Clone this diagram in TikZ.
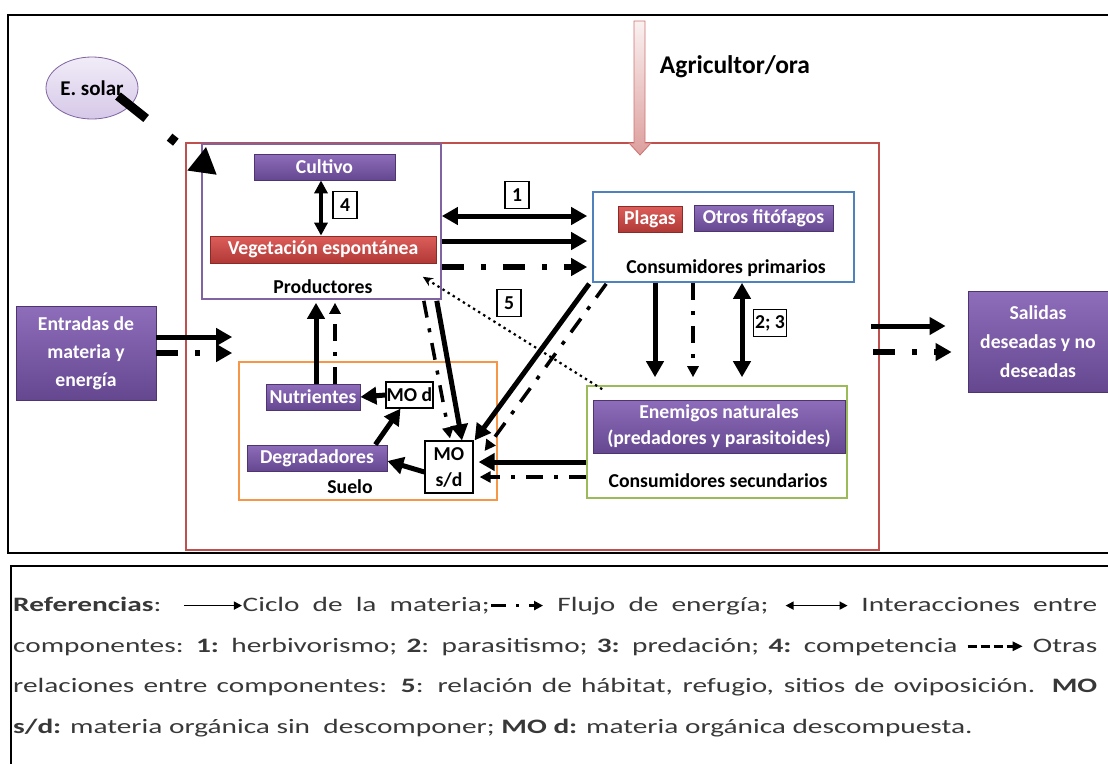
\documentclass[tikz,border=0pt]{standalone}
\usepackage{fontspec}
\setmainfont{Carlito}
\newfontfamily\legfont[FakeStretch=1.43]{Carlito}
\usetikzlibrary{arrows.meta, shapes.geometric, calc}

\definecolor{agrored}{HTML}{C0504D}
\definecolor{prodpurple}{HTML}{8064A2}
\definecolor{cpblue}{HTML}{4F81BD}
\definecolor{csgreen}{HTML}{9BBB59}
\definecolor{soilorange}{HTML}{F79646}
\definecolor{bartop}{HTML}{8E6DBA}
\definecolor{barbottom}{HTML}{654790}
\definecolor{barline}{HTML}{4E3570}
\definecolor{redtop}{HTML}{DD5E5B}
\definecolor{redbottom}{HTML}{B03936}
\definecolor{redline}{HTML}{8C2A28}
\definecolor{lavtop}{HTML}{F1ECF8}
\definecolor{lavbottom}{HTML}{D6C8E8}

% legend glyphs
\newcommand{\legmatter}{\tikz[x=1pt,y=1pt,baseline=-6pt]\draw[black, line width=1.5pt, -{Triangle[length=8pt,width=8pt]}] (0,0) -- (58,0);}
\newcommand{\legenergy}{\tikz[x=1pt,y=1pt,baseline=-6pt]\draw[black, line width=2.5pt, dash pattern=on 15pt off 10pt on 3pt off 10pt, -{Triangle[length=9pt,width=9pt]}] (0,0) -- (52,0);}
\newcommand{\leginteract}{\tikz[x=1pt,y=1pt,baseline=-6pt]\draw[black, line width=1.5pt, {Triangle[length=8pt,width=8pt]}-{Triangle[length=8pt,width=8pt]}] (0,0) -- (62,0);}
\newcommand{\legother}{\tikz[x=1pt,y=1pt,baseline=-6pt]\draw[black, line width=3.5pt, dash pattern=on 9pt off 4pt, -{Triangle[length=10pt,width=9pt]}] (0,0) -- (55,0);}

\begin{document}
\begin{tikzpicture}[x=1pt, y=-1pt, font=\bfseries\fontsize{19.7}{23}\selectfont]
    % Define node styles
    \tikzstyle{bar} = [inner sep=0pt, minimum height=26, text=white, top color=bartop, bottom color=barbottom, draw=barline, line width=0.8pt]
    \tikzstyle{redbar} = [bar, top color=redtop, bottom color=redbottom, draw=redline]
    \tikzstyle{bigbar} = [bar, align=center, font=\bfseries\fontsize{19.7}{28}\selectfont]
    \tikzstyle{group} = [draw, line width=1.6pt, inner sep=0pt]
    \tikzstyle{numbox} = [draw, fill=white, line width=1.2pt, inner sep=0pt, minimum width=24, minimum height=27]
    \tikzstyle{matter} = [line width=5pt, -{Triangle[length=16pt,width=17pt]}]
    \tikzstyle{energy} = [line width=6pt, dash pattern=on 22pt off 17pt on 5pt off 17pt, -{Triangle[length=16pt,width=17pt]}]
    \tikzstyle{energythin} = [line width=3.5pt, dash pattern=on 17pt off 11pt on 4pt off 11pt, -{Triangle[length=11pt,width=11pt]}]
    \tikzstyle{interact} = [line width=5pt, {Triangle[length=16pt,width=17pt]}-{Triangle[length=16pt,width=17pt]}]
    \tikzstyle{other} = [line width=2.2pt, dash pattern=on 2.4pt off 3.6pt, -{Stealth[length=10pt,width=9pt]}]

    \useasboundingbox (0,0) rectangle (1108,764);

    % Frames
    \draw[line width=2.5pt] (1108,15) -- (8,15) -- (8,553) -- (1108,553);
    \draw[line width=1.5pt] (1108,566) -- (11,566) -- (11,764);
    \node[group, draw=agrored, line width=2pt, minimum width=693, minimum height=407] (agro) at (532.5,346.5) {};

    % Draw the nodes
    \node[ellipse, draw=prodpurple, line width=0.8pt, top color=lavtop, bottom color=lavbottom, minimum width=92, minimum height=62, inner sep=0pt, font=\bfseries\fontsize{21}{25}\selectfont] (esolar) at (92,88) {E. solar};
    \coordinate (solartip) at (217,175);
    \node (farmer) at (735,67) {\fontsize{25.5}{30}\selectfont Agricultor/ora};

    \node[group, draw=prodpurple, minimum width=239, minimum height=155] (prod) at (321.5,221.5) {};
    \node[bar, minimum width=141] (cultivo) at (324.5,167) {Cultivo};
    \node[redbar, minimum width=226, minimum height=27] (vegesp) at (323,249.5) {Vegetación espontánea};
    \node (prodlabel) at (323,287) {Productores};

    \node[group, draw=cpblue, minimum width=261, minimum height=90] (cp) at (723.5,237) {};
    \node[redbar, minimum width=64] (plagas) at (650,219) {Plagas};
    \node[bar, minimum width=139] (otros) at (763.5,218.5) {Otros fitófagos};
    \node (cplabel) at (726,268) {Consumidores primarios};

    \node[group, draw=csgreen, minimum width=260, minimum height=112] (cs) at (717,442) {};
    \node[bigbar, minimum width=252, minimum height=53, font=\bfseries\fontsize{19.7}{26}\selectfont] (enemigos) at (719,426.5) {Enemigos naturales\\(predadores y parasitoides)};
    \node (cslabel) at (718,481) {Consumidores secundarios};

    \node[group, draw=soilorange, minimum width=258, minimum height=138] (suelo) at (368,431) {};
    \node[bar, minimum width=94] (nutrientes) at (313,397) {Nutrientes};
    \node[numbox, minimum width=47, minimum height=26] (mod) at (409.5,395) {MO d};
    \node[bar, minimum width=140] (degrad) at (317,458) {Degradadores};
    \node[numbox, minimum width=48, minimum height=52, align=center, font=\bfseries\fontsize{19.7}{26}\selectfont] (mosd) at (449,467) {MO\\s/d};
    \node (suelolabel) at (350,487) {Suelo};

    \node[bigbar, minimum width=140, minimum height=94] (entradas) at (86,353) {Entradas de\\materia y\\energía};
    \node[bigbar, minimum width=140, minimum height=101, font=\bfseries\fontsize{19.7}{29}\selectfont] (salidas) at (1038,341.5) {Salidas\\deseadas y no\\deseadas};

    % Farmer input
    \draw[draw=agrored!80, line width=0.8pt, top color=agrored!8, bottom color=agrored!55] (634,21) -- (645,21) -- (645,143) -- (651,143) -- (640,155) -- (629,143) -- (634,143) -- cycle;

    % Arrows
    \draw[line width=9pt, dash pattern=on 36pt off 30pt on 8pt off 60pt, -{Triangle[length=26pt,width=28pt]}] ($(esolar.center)+(26,8)$) -- (solartip);

    \draw[interact, line width=4.5pt, {Triangle[length=13pt,width=13pt]}-{Triangle[length=13pt,width=13pt]}] (cultivo.south -| 321,0) -- (vegesp.north -| 321,0);

    \draw[interact, shorten >=5pt] (prod.east |- 0,216) -- (cp.west |- 0,216);
    \draw[matter, shorten >=5pt] (prod.east |- 0,241) -- (cp.west |- 0,241);
    \draw[energy, shorten >=5pt] (prod.east |- 0,267) -- (cp.west |- 0,267);
    \draw[other] ($(cs.north west)+(16,4)$) -- ($(prod.south east)+(-19,-23)$);

    \draw[matter, shorten >=6pt] (entradas.east |- 0,337) -- (suelo.west |- 0,337);
    \draw[energy, shorten >=6pt] (entradas.east |- 0,353) -- (suelo.west |- 0,353);

    \draw[matter, shorten >=3pt] (nutrientes.north -| 316,0) -- (prod.south -| 316,0);
    \draw[energythin, shorten >=3pt] (nutrientes.north -| 335,0) -- (prod.south -| 335,0);
    \draw[matter] (mod.west) -- (nutrientes.east);
    \draw[matter] ($(degrad.north east)+(-12,0)$) -- ($(mod.south)+(-9,0)$);
    \draw[matter] (mosd.west |- 0,472) -- (degrad.east |- 0,461);

    \draw[matter] ($(prod.south east)+(-5,1)$) -- ($(mosd.north)+(13,0)$);
    \draw[energythin] ($(prod.south east)+(-18,1)$) -- ($(mosd.north)+(1,-2)$);
    \draw[matter] ($(cp.south west)+(-3,1)$) -- ($(mosd.north east)+(1,0)$);
    \draw[energythin] ($(cp.south west)+(14,1)$) -- ($(mosd.east)+(11,-16)$);
    \draw[matter, shorten >=5pt] (cs.west |- 0,462) -- (mosd.east |- 0,462);
    \draw[energythin, shorten >=6pt] (cs.west |- 0,477) -- (mosd.east |- 0,477);

    \draw[matter, shorten >=8pt] (cp.south -| 655,0) -- (cs.north -| 655,0);
    \draw[energythin, shorten >=8pt] (cp.south -| 693,0) -- (cs.north -| 693,0);
    \draw[interact, shorten >=8pt] (cp.south -| 742,0) -- (cs.north -| 742,0);

    \draw[matter, shorten <=-9pt, shorten >=22pt] (agro.east |- 0,326) -- (salidas.west |- 0,326);
    \draw[energy, shorten <=-7pt, shorten >=16pt] (agro.east |- 0,352) -- (salidas.west |- 0,352);

    % Number labels
    \node[numbox] (n1) at (517,195) {1};
    \node[numbox] (n4) at (345,205) {4};
    \node[numbox] (n5) at (509,303) {5};
    \node[numbox, minimum width=33] (n23) at (770,323) {2; 3};

    % Legend
    \node[anchor=north west, inner sep=0pt, text width=1084, align=justify, text=black!78, font=\legfont\mdseries\fontsize{20.5}{40.7}\selectfont] (legend) at (13,597) {%
        \textbf{Referencias}: \legmatter Ciclo de la materia;\legenergy{} Flujo de energía; \leginteract{} Interacciones entre\linebreak
        componentes: \textbf{1:} herbivorismo; \textbf{2}: parasitismo; \textbf{3:} predación; \textbf{4:} competencia \legother{} Otras\linebreak
        relaciones entre componentes: \textbf{5}: relación de hábitat, refugio, sitios de oviposición. \textbf{MO}\linebreak
        \textbf{s/d:} materia orgánica sin\ \ descomponer; \textbf{MO d:} materia orgánica descompuesta.};
\end{tikzpicture}
\end{document}
